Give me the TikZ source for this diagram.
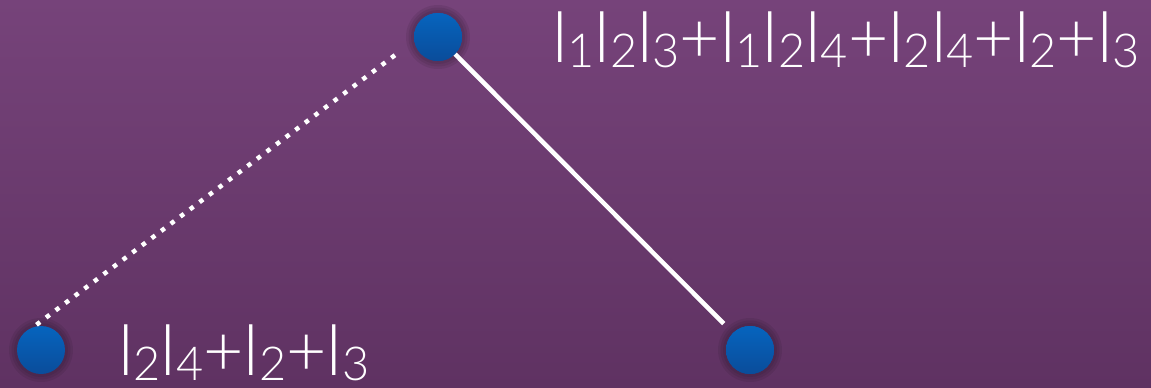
\documentclass[tikz,border=0pt]{standalone}
\usepackage{fontspec}
\setmainfont{Lato}[UprightFont=* Light]
\usetikzlibrary{positioning}
\definecolor{bgtop}{RGB}{118,67,122}
\definecolor{bgbot}{RGB}{95,50,98}
\definecolor{balltop}{RGB}{6,100,190}
\definecolor{ballbot}{RGB}{10,76,154}
\newcommand{\lsub}[1]{l\raisebox{-5bp}{\fontsize{47}{47}\selectfont #1}}

\begin{document}
\begin{tikzpicture}[x=1bp,y=-1bp]
\tikzset{
  ball/.style={circle,minimum size=48bp,inner sep=0pt,top color=balltop,bottom color=ballbot},
  halo/.style={circle,minimum size=#1,inner sep=0pt,fill=black!70!bgbot,fill opacity=0.1},
  term/.style={anchor=base west,inner sep=0pt,text=white,font=\fontsize{70}{74}\selectfont},
  solidlink/.style={white,line width=4.5bp},
  dottedlink/.style={white,line width=4.5bp,dash pattern=on 4.5bp off 7.5bp}
}
% background
\shade[top color=bgtop,bottom color=bgbot] (0,0) rectangle (1151,387);
\useasboundingbox (0,0) rectangle (1151,387);
% halos
\foreach \p in {(438,37),(41,350),(750,350)} {
  \node[halo=64bp] at \p {};
  \node[halo=59bp] at \p {};
  \node[halo=54bp] at \p {};
}
\node[ball] (n_top) at (438,37) {};
\node[ball] (n_left) at (41,350) {};
\node[ball] (n_right) at (750,350) {};
\draw[dottedlink,shorten <=24bp] (n_top.189) -- (n_left.108);
\draw[solidlink,shorten >=13bp] (n_top) -- (n_right);
\node[ball] at (n_top) {};
\node[ball] at (n_right) {};
\node[term] (t_top) at (552,62) {\lsub{1}\lsub{2}\lsub{3}+\lsub{1}\lsub{2}\lsub{4}+\lsub{2}\lsub{4}+\lsub{2}+\lsub{3}};
\node[term] (t_left) at (118,375) {\lsub{2}\lsub{4}+\lsub{2}+\lsub{3}};
\end{tikzpicture}
\end{document}
